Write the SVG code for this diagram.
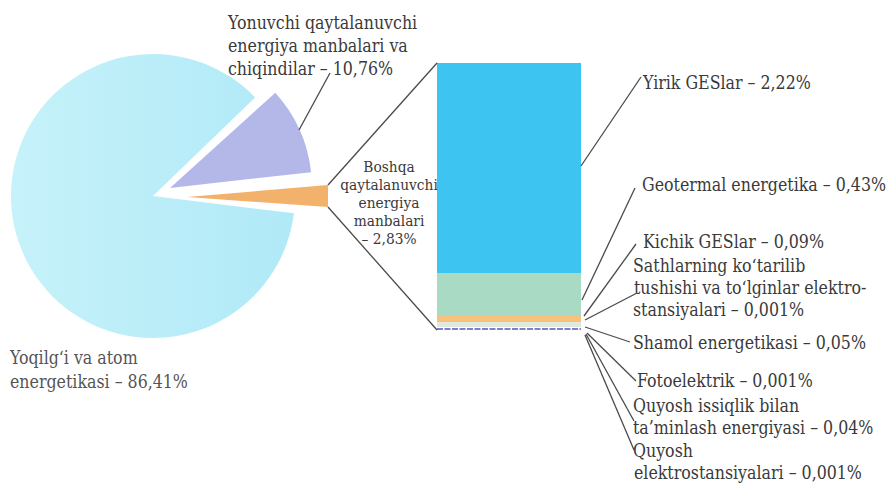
<svg xmlns="http://www.w3.org/2000/svg" width="892" height="486" viewBox="0 0 892 486">
<style>
.t{font-family:"DejaVu Serif Condensed","DejaVu Serif",serif;font-stretch:condensed;font-size:17.6px;fill:#3a3a3a}
.s{font-family:"DejaVu Serif Condensed","DejaVu Serif",serif;font-stretch:condensed;font-size:15.3px;fill:#3a3a3a;text-anchor:middle}
.ln{stroke:#4a4a4a;stroke-width:1.3;fill:none}
</style>
<defs>
<linearGradient id="gPie" x1="0" y1="0" x2="1" y2="0">
<stop offset="0" stop-color="#c6f2fa"/>
<stop offset="1" stop-color="#b0e9f7"/>
</linearGradient>
</defs>
<rect width="892" height="486" fill="#ffffff"/>
<g id="pie-main"><path d="M153,196 L293.9,213.3 A142,142 0 1 1 255.1,97.4 Z" fill="url(#gPie)"/></g>
<g id="pie-yonuvchi"><path d="M170,188 L275.3,92.8 A142,142 0 0 1 311.1,172.2 Z" fill="#b3b8e8"/></g>
<g id="pie-boshqa"><path d="M187,197 L328,185 L328,207 Z" fill="#f2b26b"/></g>
<g id="bar">
<rect x="437" y="63" width="144" height="210" fill="#3ec4f0"/>
<rect x="437" y="273" width="144" height="43" fill="#a8dac4"/>
<rect x="437" y="316" width="144" height="6" fill="#f6c27c"/>
<rect x="437" y="322" width="144" height="5" fill="#dfeadd"/>
<line x1="437" y1="329" x2="581" y2="329" stroke="#7d80d0" stroke-width="2" stroke-dasharray="6,1.5"/>
</g>
<g id="connectors">
<line class="ln" x1="328" y1="185" x2="437" y2="63"/>
<line class="ln" x1="328" y1="207" x2="437" y2="330"/>
<line class="ln" x1="299" y1="130" x2="330" y2="73"/>
<line class="ln" x1="581" y1="166" x2="641" y2="77"/>
<line class="ln" x1="582" y1="300" x2="635" y2="188"/>
<line class="ln" x1="584" y1="316" x2="636" y2="244"/>
<line class="ln" x1="585" y1="320" x2="637" y2="293"/>
<line class="ln" x1="585" y1="327" x2="630" y2="342"/>
<line class="ln" x1="587" y1="333" x2="636" y2="381"/>
<line class="ln" x1="586" y1="334" x2="634" y2="421"/>
<line class="ln" x1="585" y1="335" x2="634" y2="450"/>
</g>
<g id="label-yonuvchi">
<text class="t" x="228" y="29">Yonuvchi qaytalanuvchi</text>
<text class="t" x="228" y="52">energiya manbalari va</text>
<text class="t" x="228" y="75">chiqindilar – 10,76%</text>
</g>
<g id="label-yoqilgi">
<text class="t" x="10" y="364" style="fill:#555">Yoqilg‘i va atom</text>
<text class="t" x="10" y="388" style="fill:#555">energetikasi – 86,41%</text>
</g>
<g id="label-boshqa">
<text class="s" x="389" y="172">Boshqa</text>
<text class="s" x="389" y="190">qaytalanuvchi</text>
<text class="s" x="389" y="208">energiya</text>
<text class="s" x="389" y="226">manbalari</text>
<text class="s" x="389" y="244">– 2,83%</text>
</g>
<g id="label-yirik"><text class="t" x="643" y="89">Yirik GESlar – 2,22%</text></g>
<g id="label-geotermal"><text class="t" x="642" y="191">Geotermal energetika – 0,43%</text></g>
<g id="label-kichik"><text class="t" x="643" y="248">Kichik GESlar – 0,09%</text></g>
<g id="label-sathlar">
<text class="t" x="633" y="272">Sathlarning ko‘tarilib</text>
<text class="t" x="634" y="294">tushishi va to‘lginlar elektro-</text>
<text class="t" x="633" y="316">stansiyalari – 0,001%</text>
</g>
<g id="label-shamol"><text class="t" x="633" y="349">Shamol energetikasi – 0,05%</text></g>
<g id="label-foto"><text class="t" x="637" y="387">Fotoelektrik – 0,001%</text></g>
<g id="label-issiqlik">
<text class="t" x="633" y="412">Quyosh issiqlik bilan</text>
<text class="t" x="633" y="434">ta’minlash energiyasi – 0,04%</text>
</g>
<g id="label-elektro">
<text class="t" x="633" y="457">Quyosh</text>
<text class="t" x="634" y="479">elektrostansiyalari – 0,001%</text>
</g>
</svg>
